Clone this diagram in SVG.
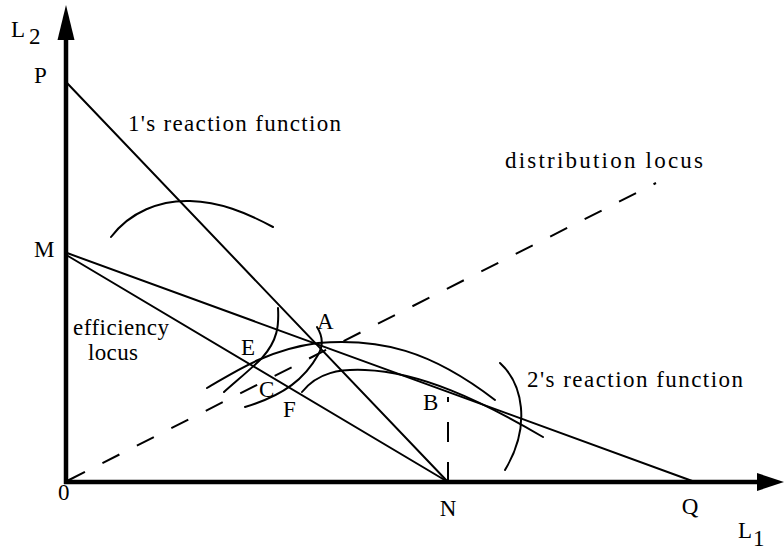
<svg xmlns="http://www.w3.org/2000/svg" width="784" height="552" viewBox="0 0 784 552">
<style>
text{font-family:"Liberation Serif","Times New Roman",serif;font-size:23px;fill:#000}
.ln{fill:none;stroke:#000;stroke-width:2;stroke-linecap:round}
.ax{fill:none;stroke:#000;stroke-width:4.5}
.dash{fill:none;stroke:#000;stroke-width:2}
</style>
<rect width="784" height="552" fill="#fff"/>
<g id="axes">
<line class="ax" x1="66" y1="484" x2="66" y2="38"/>
<polygon points="66,5 57.5,40 74.5,40" fill="#000"/>
<line class="ax" x1="64" y1="482" x2="759" y2="482"/>
<polygon points="784,482 757,473 757,491" fill="#000"/>
</g>
<g id="connectors">
<line class="ln" x1="67" y1="83" x2="448" y2="482"/>
<line class="ln" x1="67" y1="253" x2="695" y2="482"/>
<line class="ln" x1="68" y1="256" x2="448" y2="482"/>
<line class="dash" x1="68" y1="480.5" x2="656" y2="183" stroke-dasharray="19 19.6"/>
<line class="dash" x1="448" y1="482" x2="448" y2="397" stroke-dasharray="20 20"/>
</g>
<g id="curves">
<path class="ln" d="M111,237 C130,212 160,200 190,201 C220,202 245,212 273,227"/>
<path class="ln" d="M278,308 C279,325 278,340 262,358 C250,370 235,382 224,392"/>
<path class="ln" d="M207,388 C230,375 265,350 318,343 C380,338 430,350 495,400"/>
<path class="ln" d="M317,327 C322,335 324,345 318,355 C305,378 285,395 245,407"/>
<path class="ln" d="M302,392 C318,372 340,369 365,370 C420,372 480,400 543,437"/>
<path class="ln" d="M500,363 C522,383 532,425 505,470"/>
</g>
<g id="labels">
<text x="11" y="37" font-size="24">L</text>
<text x="29" y="44" font-size="24">2</text>
<text x="738" y="538" font-size="24">L</text>
<text x="753" y="546" font-size="22">1</text>
<text x="34" y="83">P</text>
<text x="34" y="257">M</text>
<text x="58" y="500">0</text>
<text x="448" y="516" text-anchor="middle">N</text>
<text x="690" y="514" text-anchor="middle">Q</text>
<text x="317" y="329">A</text>
<text x="241" y="355">E</text>
<text x="259" y="397">C</text>
<text x="283" y="417">F</text>
<text x="423" y="410">B</text>
<text x="128" y="131" textLength="213" lengthAdjust="spacing">1's reaction function</text>
<text x="505" y="168" textLength="198" lengthAdjust="spacing">distribution locus</text>
<text x="527" y="387" textLength="216" lengthAdjust="spacing">2's reaction function</text>
<text x="73" y="335" textLength="96" lengthAdjust="spacing">efficiency</text>
<text x="88" y="360" textLength="50" lengthAdjust="spacing">locus</text>
</g>
</svg>
